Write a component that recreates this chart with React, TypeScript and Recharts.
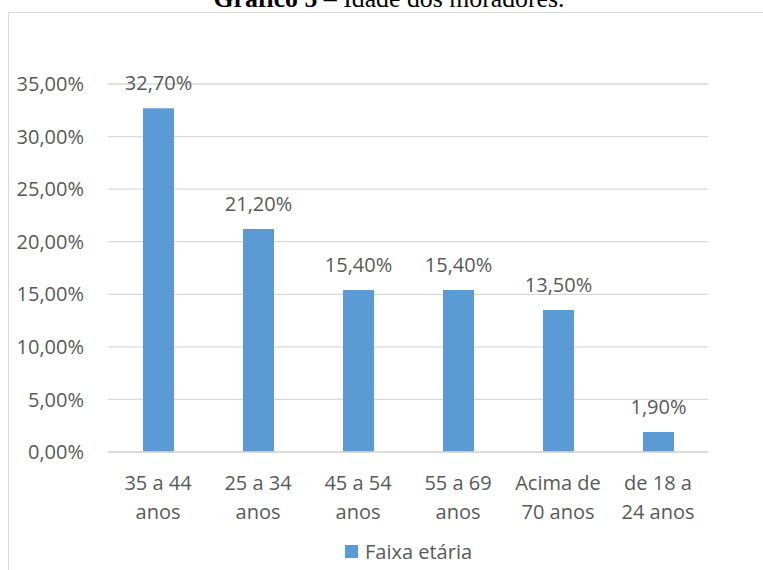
import React from "react";
import { BarChart, Bar, XAxis, YAxis, CartesianGrid, LabelList, Legend } from "recharts";

const categories = ["35 a 44 anos", "25 a 34 anos", "45 a 54 anos", "55 a 69 anos", "Acima de 70 anos", "de 18 a 24 anos"];
const tickLines = [
  ["35 a 44", "anos"],
  ["25 a 34", "anos"],
  ["45 a 54", "anos"],
  ["55 a 69", "anos"],
  ["Acima de", "70 anos"],
  ["de 18 a", "24 anos"],
];
const faixaEtaria = [32.7, 21.2, 15.4, 15.4, 13.5, 1.9];
const yTicks = [0, 5, 10, 15, 20, 25, 30, 35];
const seriesName = "Faixa etária";
const titleBold = "Gráfico 5";
const titleRest = " – Idade dos moradores.";

const data = categories.map((c, i) => ({ name: c, lines: tickLines[i], value: faixaEtaria[i] }));

const FONT = "'Open Sans', 'Noto Sans', sans-serif";
const TEXT = "#595959";
const BLUE = "#5B9BD5";
const GRID = "#d9d9d9";

const fmt = (v: number) => `${v.toFixed(2).replace(".", ",")}%`;

const XTick = (props: any) => {
  const { x, y, index } = props;
  const lines = tickLines[index] || [];
  return (
    <text x={x} y={y} textAnchor="middle" fill={TEXT} fontFamily={FONT} fontSize={20}>
      {lines.map((l, i) => (
        <tspan key={i} x={x} y={y + 38 + i * 29}>
          {l}
        </tspan>
      ))}
    </text>
  );
};

const LegendContent = () => (
  <div style={{ display: "flex", alignItems: "center", fontFamily: FONT, fontSize: 20, color: TEXT, whiteSpace: "nowrap" }}>
    <span style={{ display: "inline-block", width: 13, height: 13, background: BLUE, marginRight: 7 }} />
    <span>{seriesName}</span>
  </div>
);

export default function App() {
  return (
    <div style={{ position: "absolute", left: 0, top: 0, width: 763, height: 570, overflow: "hidden", background: "#fff" }}>
      <div
        style={{
          position: "absolute",
          left: 8,
          top: 12,
          width: 900,
          height: 700,
          borderLeft: `1.5px solid ${GRID}`,
          borderTop: `1.5px solid ${GRID}`,
          boxSizing: "border-box",
        }}
      />
      <svg width={763} height={30} style={{ position: "absolute", left: 0, top: 0 }}>
        <text x={389} y={7} textAnchor="middle" fontFamily="'Liberation Serif', 'Times New Roman', serif" fontSize={25.8} fill="#000">
          <tspan fontWeight="bold">{titleBold}</tspan>
          <tspan>{titleRest}</tspan>
        </text>
      </svg>
      <div style={{ position: "absolute", left: 0, top: 0 }}>
        <BarChart width={763} height={570} data={data} margin={{ top: 84, right: 55, left: 0, bottom: 38 }}>
          <CartesianGrid vertical={false} stroke={GRID} strokeWidth={1.3} />
          <XAxis
            dataKey="name"
            axisLine={{ stroke: GRID, strokeWidth: 1.3 }}
            tickLine={false}
            tickSize={0}
            tickMargin={0}
            height={80}
            interval={0}
            tick={<XTick />}
          />
          <YAxis
            width={108}
            domain={[0, 35]}
            ticks={yTicks}
            axisLine={false}
            tickLine={false}
            tickSize={0}
            tickMargin={24}
            tickFormatter={fmt}
            tick={{ fill: TEXT, fontFamily: FONT, fontSize: 20 }}
          />
          <Legend
            layout="horizontal"
            verticalAlign="middle"
            align="center"
            content={<LegendContent />}
            wrapperStyle={{ position: "absolute", top: 538, left: 345, width: 200, height: 28 }}
          />
          <Bar dataKey="value" name={seriesName} fill={BLUE} barSize={31} isAnimationActive={false}>
            <LabelList dataKey="value" position="top" offset={18} formatter={(v: any) => fmt(Number(v))} fill={TEXT} fontFamily={FONT} fontSize={20} />
          </Bar>
        </BarChart>
      </div>
    </div>
  );
}
